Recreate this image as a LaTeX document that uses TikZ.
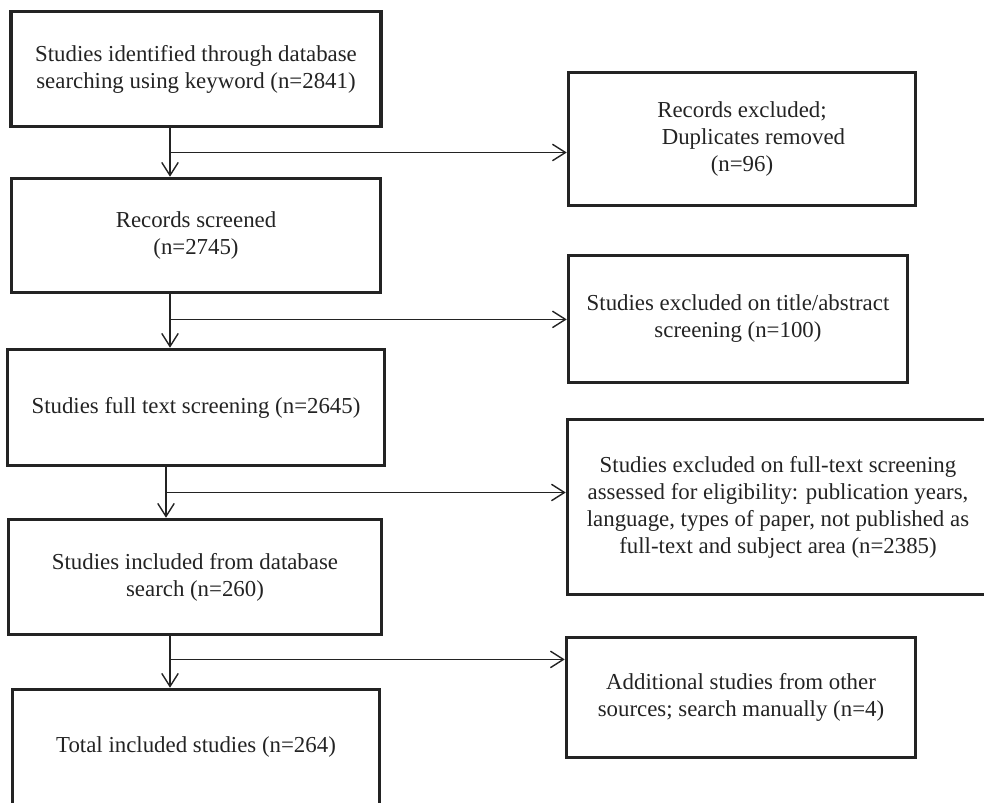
\documentclass[tikz,border=0pt]{standalone}
\usepackage{fontspec}
\setmainfont{Liberation Serif}
\usepackage{tikz}
\usetikzlibrary{arrows.meta,positioning,calc}
\definecolor{inkdark}{RGB}{35,35,35}

\begin{document}
\begin{tikzpicture}[
    every node/.style={font=\fontsize{13}{15.4}\selectfont, text=inkdark},
    flowbox/.style={draw=inkdark, line width=2pt, align=center, inner sep=0pt},
    link/.style={draw=inkdark, line width=0.8pt, -{Straight Barb[length=2.6mm,width=3.3mm]}}]
    \useasboundingbox (0,0) rectangle (19.68,-16.06);
    \clip (0,0) rectangle (19.68,-16.06);
    \node[flowbox, minimum width=7.4cm, minimum height=2.3cm] (ident) at (3.92,-1.38)
          {Studies identified through database\\searching using keyword (n=2841)};
    \node[flowbox, minimum width=7.38cm, minimum height=2.28cm] (screen) at (3.92,-4.71)
          {Records screened\\(n=2745)};
    \node[flowbox, minimum width=7.54cm, minimum height=2.32cm] (fulltext) at (3.92,-8.15)
          {Studies full text screening (n=2645)};
    \node[flowbox, minimum width=7.46cm, minimum height=2.3cm] (included) at (3.90,-11.54)
          {Studies included from database\\search (n=260)};
    \node[flowbox, minimum width=7.34cm, minimum height=2.3cm] (total) at (3.92,-14.94)
          {Total included studies (n=264)};
    \node[flowbox, minimum width=6.94cm, minimum height=2.66cm] (dupl) at (14.84,-2.78)
          {Records excluded;\\\hspace*{1em}Duplicates removed\\(n=96)};
    \node[flowbox, minimum width=6.78cm, minimum height=2.54cm] (absex) at (14.76,-6.38)
          {Studies excluded on title/abstract\\screening (n=100)};
    \node[flowbox, minimum width=8.42cm, minimum height=3.5cm] (fullex) at (15.56,-10.14)
          {Studies excluded on full-text screening\\assessed for eligibility: publication years,\\language, types of paper, not published as\\full-text and subject area (n=2385)};
    \node[flowbox, minimum width=6.98cm, minimum height=2.4cm] (extra) at (14.82,-13.95)
          {Additional studies from other\\sources; search manually (n=4)};
    \coordinate (spine) at (3.4,0);
    \coordinate (j1) at ($(ident.south -| spine)!0.5!(screen.north -| spine)$);
    \coordinate (j2) at ($(screen.south -| spine)!0.47!(fulltext.north -| spine)$);
    \coordinate (j3) at ($(fulltext.south -| spine)!0.5!(included.north -| spine)$);
    \coordinate (j4) at ($(included.south -| spine)!0.45!(total.north -| spine)$);
    \draw[link] (ident.south -| spine) -- (screen.north -| spine);
    \draw[link] (screen.south -| spine) -- (fulltext.north -| spine);
    \draw[link] ([xshift=-0.08cm]fulltext.south -| spine) -- ([xshift=-0.08cm]included.north -| spine);
    \draw[link] (included.south -| spine) -- (total.north -| spine);
    \draw[link] (j1) -- (j1 -| dupl.west);
    \draw[link] (j2) -- (j2 -| absex.west);
    \draw[link] ([xshift=-0.08cm]j3) -- (j3 -| fullex.west);
    \draw[link] (j4) -- (j4 -| extra.west);
\end{tikzpicture}
\end{document}
